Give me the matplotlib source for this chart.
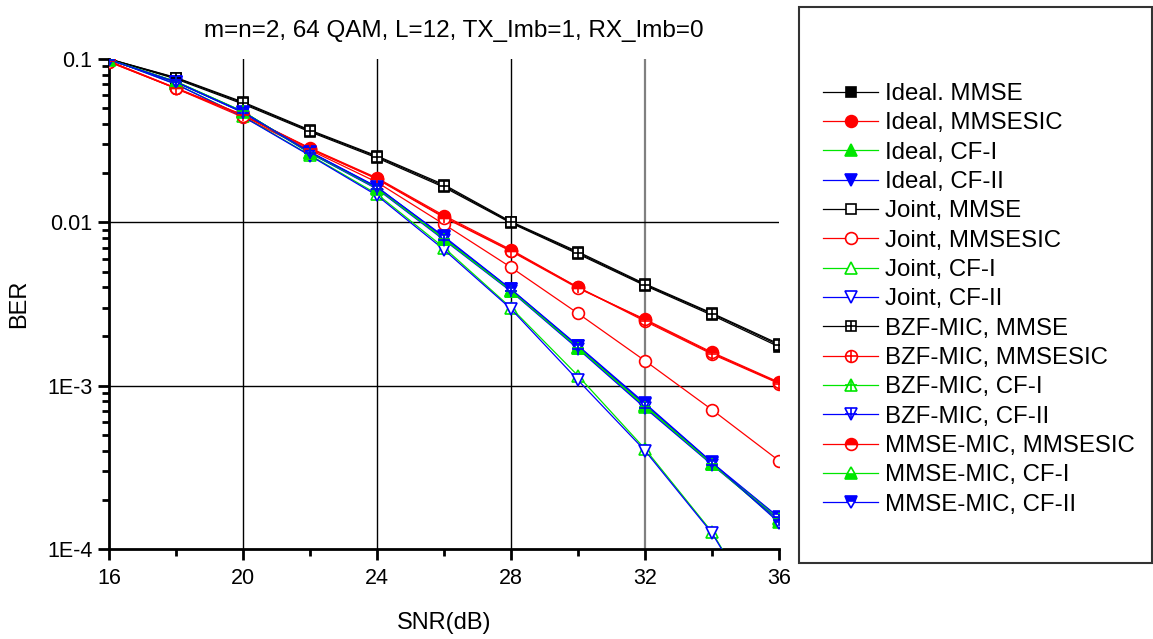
import matplotlib
matplotlib.use('Agg')
import matplotlib.pyplot as plt
from matplotlib.patches import Rectangle
from matplotlib.ticker import FixedLocator, FixedFormatter, LogLocator, NullFormatter

plt.rcParams['font.family'] = ['Liberation Sans', 'DejaVu Sans']

snr = [16, 18, 20, 22, 24, 26, 28, 30, 32, 34, 36]

ideal_mmse = [0.100, 0.0755, 0.0530, 0.0358, 0.0248, 0.0164, 0.0099, 0.0064, 0.0041, 0.00270, 0.00173]
ideal_mmsesic = [0.097, 0.0660, 0.0453, 0.0285, 0.0187, 0.0110, 0.0068, 0.0040, 0.00252, 0.00158, 0.00104]
ideal_cf1 = [0.099, 0.0725, 0.0475, 0.0268, 0.0163, 0.0080, 0.00385, 0.00172, 0.00076, 0.000335, 0.000155]
ideal_cf2 = [0.099, 0.0722, 0.0472, 0.0270, 0.0165, 0.0081, 0.00388, 0.00174, 0.00077, 0.000338, 0.000156]
joint_mmse = [0.100, 0.0770, 0.0545, 0.0367, 0.0255, 0.0170, 0.0101, 0.0066, 0.0042, 0.00278, 0.00180]
joint_mmsesic = [0.096, 0.0660, 0.0440, 0.0277, 0.0176, 0.00973, 0.0053, 0.00277, 0.00142, 0.000712, 0.000347]
joint_cf1 = [0.100, 0.0703, 0.0446, 0.0258, 0.0149, 0.0070, 0.00300, 0.00115, 0.00041, 0.000127, 2.6e-5]
joint_cf2 = [0.100, 0.0700, 0.0444, 0.0256, 0.0146, 0.0068, 0.00295, 0.00108, 0.00040, 0.000125, 2.6e-5]
bzf_mmse = [0.100, 0.0765, 0.0538, 0.0363, 0.0252, 0.0167, 0.0100, 0.0065, 0.00415, 0.00275, 0.00177]
bzf_mmsesic = [0.097, 0.0665, 0.0455, 0.0283, 0.0185, 0.0108, 0.0067, 0.0040, 0.00248, 0.00156, 0.00103]
bzf_cf1 = [0.099, 0.0728, 0.0478, 0.0266, 0.0161, 0.0079, 0.00380, 0.00170, 0.00074, 0.000330, 0.000152]
bzf_cf2 = [0.099, 0.0720, 0.0470, 0.0265, 0.0160, 0.0078, 0.00378, 0.00168, 0.00073, 0.000328, 0.000150]
mmsemic_mmsesic = [0.096, 0.0662, 0.0450, 0.0282, 0.0184, 0.0107, 0.00665, 0.00395, 0.00255, 0.00160, 0.00105]
mmsemic_cf1 = [0.099, 0.0726, 0.0476, 0.0267, 0.0162, 0.0079, 0.00382, 0.00171, 0.00075, 0.000332, 0.000147]
mmsemic_cf2 = [0.099, 0.0724, 0.0474, 0.0269, 0.0164, 0.0082, 0.00390, 0.00176, 0.00078, 0.000340, 0.000145]

labels = ['Ideal. MMSE', 'Ideal, MMSESIC', 'Ideal, CF-I', 'Ideal, CF-II',
          'Joint, MMSE', 'Joint, MMSESIC', 'Joint, CF-I', 'Joint, CF-II',
          'BZF-MIC, MMSE', 'BZF-MIC, MMSESIC', 'BZF-MIC, CF-I', 'BZF-MIC, CF-II',
          'MMSE-MIC, MMSESIC', 'MMSE-MIC, CF-I', 'MMSE-MIC, CF-II']
series = [ideal_mmse, ideal_mmsesic, ideal_cf1, ideal_cf2,
          joint_mmse, joint_mmsesic, joint_cf1, joint_cf2,
          bzf_mmse, bzf_mmsesic, bzf_cf1, bzf_cf2,
          mmsemic_mmsesic, mmsemic_cf1, mmsemic_cf2]

K, R, G, B = 'black', '#ff0000', '#00e600', '#0000ff'
# (color, marker, fill style, size, plus overlay)
styles = [(K, 's', 'full', 7, False), (R, 'o', 'full', 8.5, False), (G, '^', 'full', 9, False), (B, 'v', 'full', 9, False),
          (K, 's', 'none', 7, False), (R, 'o', 'none', 8.5, False), (G, '^', 'none', 9, False), (B, 'v', 'none', 9, False),
          (K, 's', 'none', 7, True), (R, 'o', 'none', 8.5, True), (G, '^', 'none', 9, True), (B, 'v', 'none', 9, True),
          (R, 'o', 'top', 8.5, False), (G, '^', 'bottom', 9, False), (B, 'v', 'top', 9, False)]

fig = plt.figure(figsize=(11.53, 6.39), dpi=100)
ax = fig.add_axes([109 / 1153, 1 - 549 / 639, 670 / 1153, 490 / 639])

grid_x = [20, 24, 28]
grid_y = [0.01, 0.001]
for gx in grid_x:
    ax.axvline(gx, color='black', lw=1, zorder=1)
ax.axvline(32, color='#808080', lw=1.6, zorder=1)
for gy in grid_y:
    ax.axhline(gy, color='black', lw=1, zorder=1)

handles = []
for y, (c, m, fs, ms, plus) in zip(series, styles):
    if fs == 'none':
        ln, = ax.plot(snr, y, color=c, lw=0.9, marker=m, ms=ms, mfc='white', mec=c, mew=1.2, zorder=3)
    else:
        ln, = ax.plot(snr, y, color=c, lw=0.9, marker=m, ms=ms, fillstyle=fs, mfc=c, mfcalt='white',
                      mec=c, mew=1.2, zorder=3)
    if plus:
        p, = ax.plot(snr, y, ls='none', marker='+', ms=ms, mec=c, mew=1.2, zorder=4)
        handles.append((ln, p))
    else:
        handles.append(ln)

ax.set_yscale('log')
ax.set_xlim(16, 36)
ax.set_ylim(1e-4, 0.1)
ax.xaxis.set_major_locator(FixedLocator([16, 20, 24, 28, 32, 36]))
ax.xaxis.set_minor_locator(FixedLocator([18, 22, 26, 30, 34]))
ax.yaxis.set_major_locator(FixedLocator([1e-4, 1e-3, 1e-2, 1e-1]))
ax.yaxis.set_major_formatter(FixedFormatter(['1E-4', '1E-3', '0.01', '0.1']))
ax.yaxis.set_minor_locator(LogLocator(base=10, subs=range(2, 10)))
ax.yaxis.set_minor_formatter(NullFormatter())
ax.tick_params(which='major', direction='out', length=8, width=2, labelsize=15.5, pad=4)
ax.tick_params(axis='x', which='major', pad=6)
ax.tick_params(which='minor', direction='out', length=5, width=2)
for s in ['top', 'right']:
    ax.spines[s].set_visible(False)
for s in ['left', 'bottom']:
    ax.spines[s].set_linewidth(2)

ax.set_xlabel('SNR(dB)', fontsize=17, labelpad=16)
ax.set_ylabel('BER', fontsize=17, labelpad=12)
ax.set_title('m=n=2, 64 QAM, L=12, TX_Imb=1, RX_Imb=0', fontsize=17.5, pad=16, x=0.515)

fig.patches.append(Rectangle((799 / 1153, 1 - 563 / 639), 353 / 1153, 556 / 639,
                             transform=fig.transFigure, fill=False, edgecolor='#333333', lw=1.5))

fig.legend(handles, labels, loc='upper left', bbox_to_anchor=(823 / 1153, 1 - 83 / 639),
           frameon=False, fontsize=17.3, handlelength=2.3, handletextpad=0.3,
           labelspacing=0.305, borderpad=0, borderaxespad=0)

fig.savefig('out.png', dpi=100)
